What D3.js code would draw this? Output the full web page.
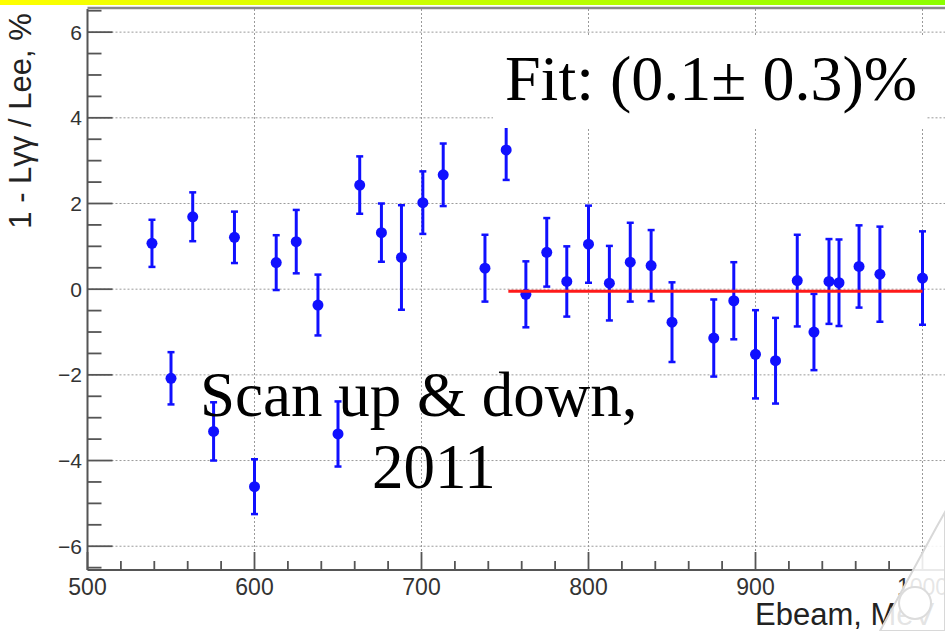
<!DOCTYPE html>
<html>
<head>
<meta charset="utf-8">
<script src="https://cdn.jsdelivr.net/npm/d3@7"></script>
<style>
  html, body { margin: 0; padding: 0; background: #fff; }
  svg { display: block; }
</style>
</head>
<body>
<svg id="chart" width="945" height="631"></svg>
<script>
// ---- data ----
const energies = [538.6, 550, 563, 575.5, 588, 600, 613, 625, 638, 650, 663, 676, 688, 700.8, 713, 738,
                  750.7, 762.5, 775, 787, 800, 812.5, 825, 837.5, 850, 875, 887, 900, 912, 925, 935, 944,
                  950, 962, 974.5, 1000];
const values   = [1.07, -2.08, 1.69, -3.32, 1.21, -4.61, 0.62, 1.11, -0.37, -3.38, 2.43, 1.32, 0.74, 2.02, 2.67, 0.49,
                  3.25, -0.12, 0.86, 0.18, 1.05, 0.14, 0.63, 0.55, -0.77, -1.14, -0.27, -1.52, -1.67, 0.20, -1.0, 0.18,
                  0.15, 0.53, 0.35, 0.26];
const errors   = [0.55, 0.61, 0.57, 0.68, 0.60, 0.64, 0.64, 0.74, 0.71, 0.76, 0.67, 0.68, 1.22, 0.73, 0.73, 0.78,
                  0.70, 0.77, 0.80, 0.82, 0.90, 0.87, 0.92, 0.83, 0.93, 0.90, 0.90, 1.03, 1.00, 1.07, 0.89, 0.99,
                  1.01, 0.96, 1.11, 1.09];
const fitRange = [752, 1000];
const fitValue = -0.05;
const xMajorTicks = [500, 600, 700, 800, 900, 1000];
const yMajorTicks = [-6, -4, -2, 0, 2, 4, 6];
const fitLabel = "Fit: (0.1\u00B1 0.3)%";
const noteLines = ["Scan up & down,", "2011"];
const xTitle = "Ebeam, MeV";
const yTitle = "1 - L\u03B3\u03B3 / Lee, %";

// ---- layout ----
const svg = d3.select("#chart");
const W = 945, H = 631;
const x = d3.scaleLinear().domain([500, 1020]).range([87.5, 955.9]);
const y = d3.scaleLinear().domain([-6.555, 6.54]).range([570, 9]);
const plotLeft = x(500), plotBottom = y(-6.555), plotTop = y(6.54);

// top gradient band
const defs = svg.append("defs");
const grad = defs.append("linearGradient").attr("id", "band").attr("x1", "0").attr("x2", "1");
grad.append("stop").attr("offset", "0").attr("stop-color", "#ffff00");
grad.append("stop").attr("offset", "1").attr("stop-color", "#8cff00");
svg.append("rect").attr("x", 0).attr("y", 0).attr("width", W).attr("height", 5).attr("fill", "url(#band)");

// grid
const grid = svg.append("g").attr("stroke", "#9a9a9a").attr("stroke-width", 1).attr("stroke-dasharray", "2,2");
xMajorTicks.filter(v => v > 500).forEach(v => {
  grid.append("line").attr("x1", x(v)).attr("x2", x(v)).attr("y1", plotTop).attr("y2", plotBottom);
});
yMajorTicks.forEach(v => {
  grid.append("line").attr("x1", plotLeft).attr("x2", W).attr("y1", y(v)).attr("y2", y(v));
});

// axes (ROOT style ticks inside the frame)
const axisColor = "#555";
const ax = svg.append("g").attr("stroke", axisColor);
ax.append("line").attr("x1", plotLeft).attr("x2", W).attr("y1", plotBottom).attr("y2", plotBottom).attr("stroke-width", 2);
ax.append("line").attr("x1", plotLeft).attr("x2", plotLeft).attr("y1", plotTop).attr("y2", plotBottom).attr("stroke-width", 2);
ax.append("line").attr("x1", plotLeft).attr("x2", W).attr("y1", plotTop - 1).attr("y2", plotTop - 1).attr("stroke-width", 2.5).attr("stroke", "#8a8a8a");

// x ticks
d3.range(500, 1021, 20).forEach(v => {
  const major = v % 100 === 0;
  ax.append("line").attr("x1", x(v)).attr("x2", x(v))
    .attr("y1", plotBottom).attr("y2", plotBottom - (major ? 18 : 9)).attr("stroke-width", 1.8);
});
// y ticks
d3.range(-6.5, 6.51, 0.5).forEach(v => {
  const major = Math.abs(v % 2) < 1e-9;
  ax.append("line").attr("y1", y(v)).attr("y2", y(v))
    .attr("x1", plotLeft).attr("x2", plotLeft + (major ? 25 : 14)).attr("stroke-width", 1.8);
});

// tick labels
const tl = svg.append("g").attr("font-family", "'Liberation Sans', Arial, sans-serif").attr("fill", "#333");
xMajorTicks.forEach(v => {
  tl.append("text").attr("x", x(v)).attr("y", 595).attr("text-anchor", "middle")
    .attr("font-size", 23).text(v);
});
yMajorTicks.forEach(v => {
  tl.append("text").attr("x", 82).attr("y", y(v) + 7.5).attr("text-anchor", "end")
    .attr("font-size", 21).text(v < 0 ? "\u2212" + Math.abs(v) : v);
});

// axis titles
svg.append("text").attr("transform", "translate(31,121) rotate(-90)")
  .attr("text-anchor", "middle").attr("font-family", "'Liberation Sans', Arial, sans-serif")
  .attr("font-size", 31).attr("fill", "#222").text(yTitle);
svg.append("text").attr("x", 755).attr("y", 625)
  .attr("font-family", "'Liberation Sans', Arial, sans-serif")
  .attr("font-size", 31).attr("fill", "#222").text(xTitle);

// data points with error bars
const pts = energies.map((e, i) => ({ e, v: values[i], err: errors[i] }));
const blue = "#1010ff";
const g = svg.append("g");
pts.forEach(d => {
  const px = x(d.e), y1 = y(d.v + d.err), y2 = y(d.v - d.err);
  g.append("line").attr("x1", px).attr("x2", px).attr("y1", y1).attr("y2", y2)
    .attr("stroke", blue).attr("stroke-width", 3);
  [y1, y2].forEach(yy => {
    g.append("line").attr("x1", px - 3.5).attr("x2", px + 3.5).attr("y1", yy).attr("y2", yy)
      .attr("stroke", blue).attr("stroke-width", 2.5);
  });
  g.append("circle").attr("cx", px).attr("cy", y(d.v)).attr("r", 5.5).attr("fill", blue);
});

// fit line
svg.append("line").attr("x1", x(fitRange[0])).attr("x2", x(fitRange[1]))
  .attr("y1", y(fitValue)).attr("y2", y(fitValue))
  .attr("stroke", "#ff1a1a").attr("stroke-width", 3);

// fit label with white box
svg.append("rect").attr("x", 493).attr("y", 35).attr("width", 434).attr("height", 93).attr("fill", "#fff");
svg.append("text").attr("x", 505).attr("y", 100)
  .attr("font-family", "'Liberation Serif', 'Times New Roman', serif")
  .attr("font-size", 64).attr("fill", "#000").text(fitLabel);

// note text
svg.append("text").attr("x", 200).attr("y", 416)
  .attr("font-family", "'Liberation Serif', 'Times New Roman', serif")
  .attr("font-size", 63).attr("fill", "#000").text(noteLines[0]);
svg.append("text").attr("x", 372).attr("y", 488)
  .attr("font-family", "'Liberation Serif', 'Times New Roman', serif")
  .attr("font-size", 63).attr("fill", "#000").text(noteLines[1]);

// watermark shape in the bottom-right corner
svg.append("path")
  .attr("d", "M945,512 L936,528 L905,585 L880,631 L945,631 Z")
  .attr("fill", "#fff").attr("fill-opacity", 0.88)
  .attr("stroke", "#d8d8d8").attr("stroke-width", 2);
svg.append("circle").attr("cx", 915).attr("cy", 603).attr("r", 16)
  .attr("fill", "#fff").attr("stroke", "#dcdcdc").attr("stroke-width", 2);
</script>
</body>
</html>
